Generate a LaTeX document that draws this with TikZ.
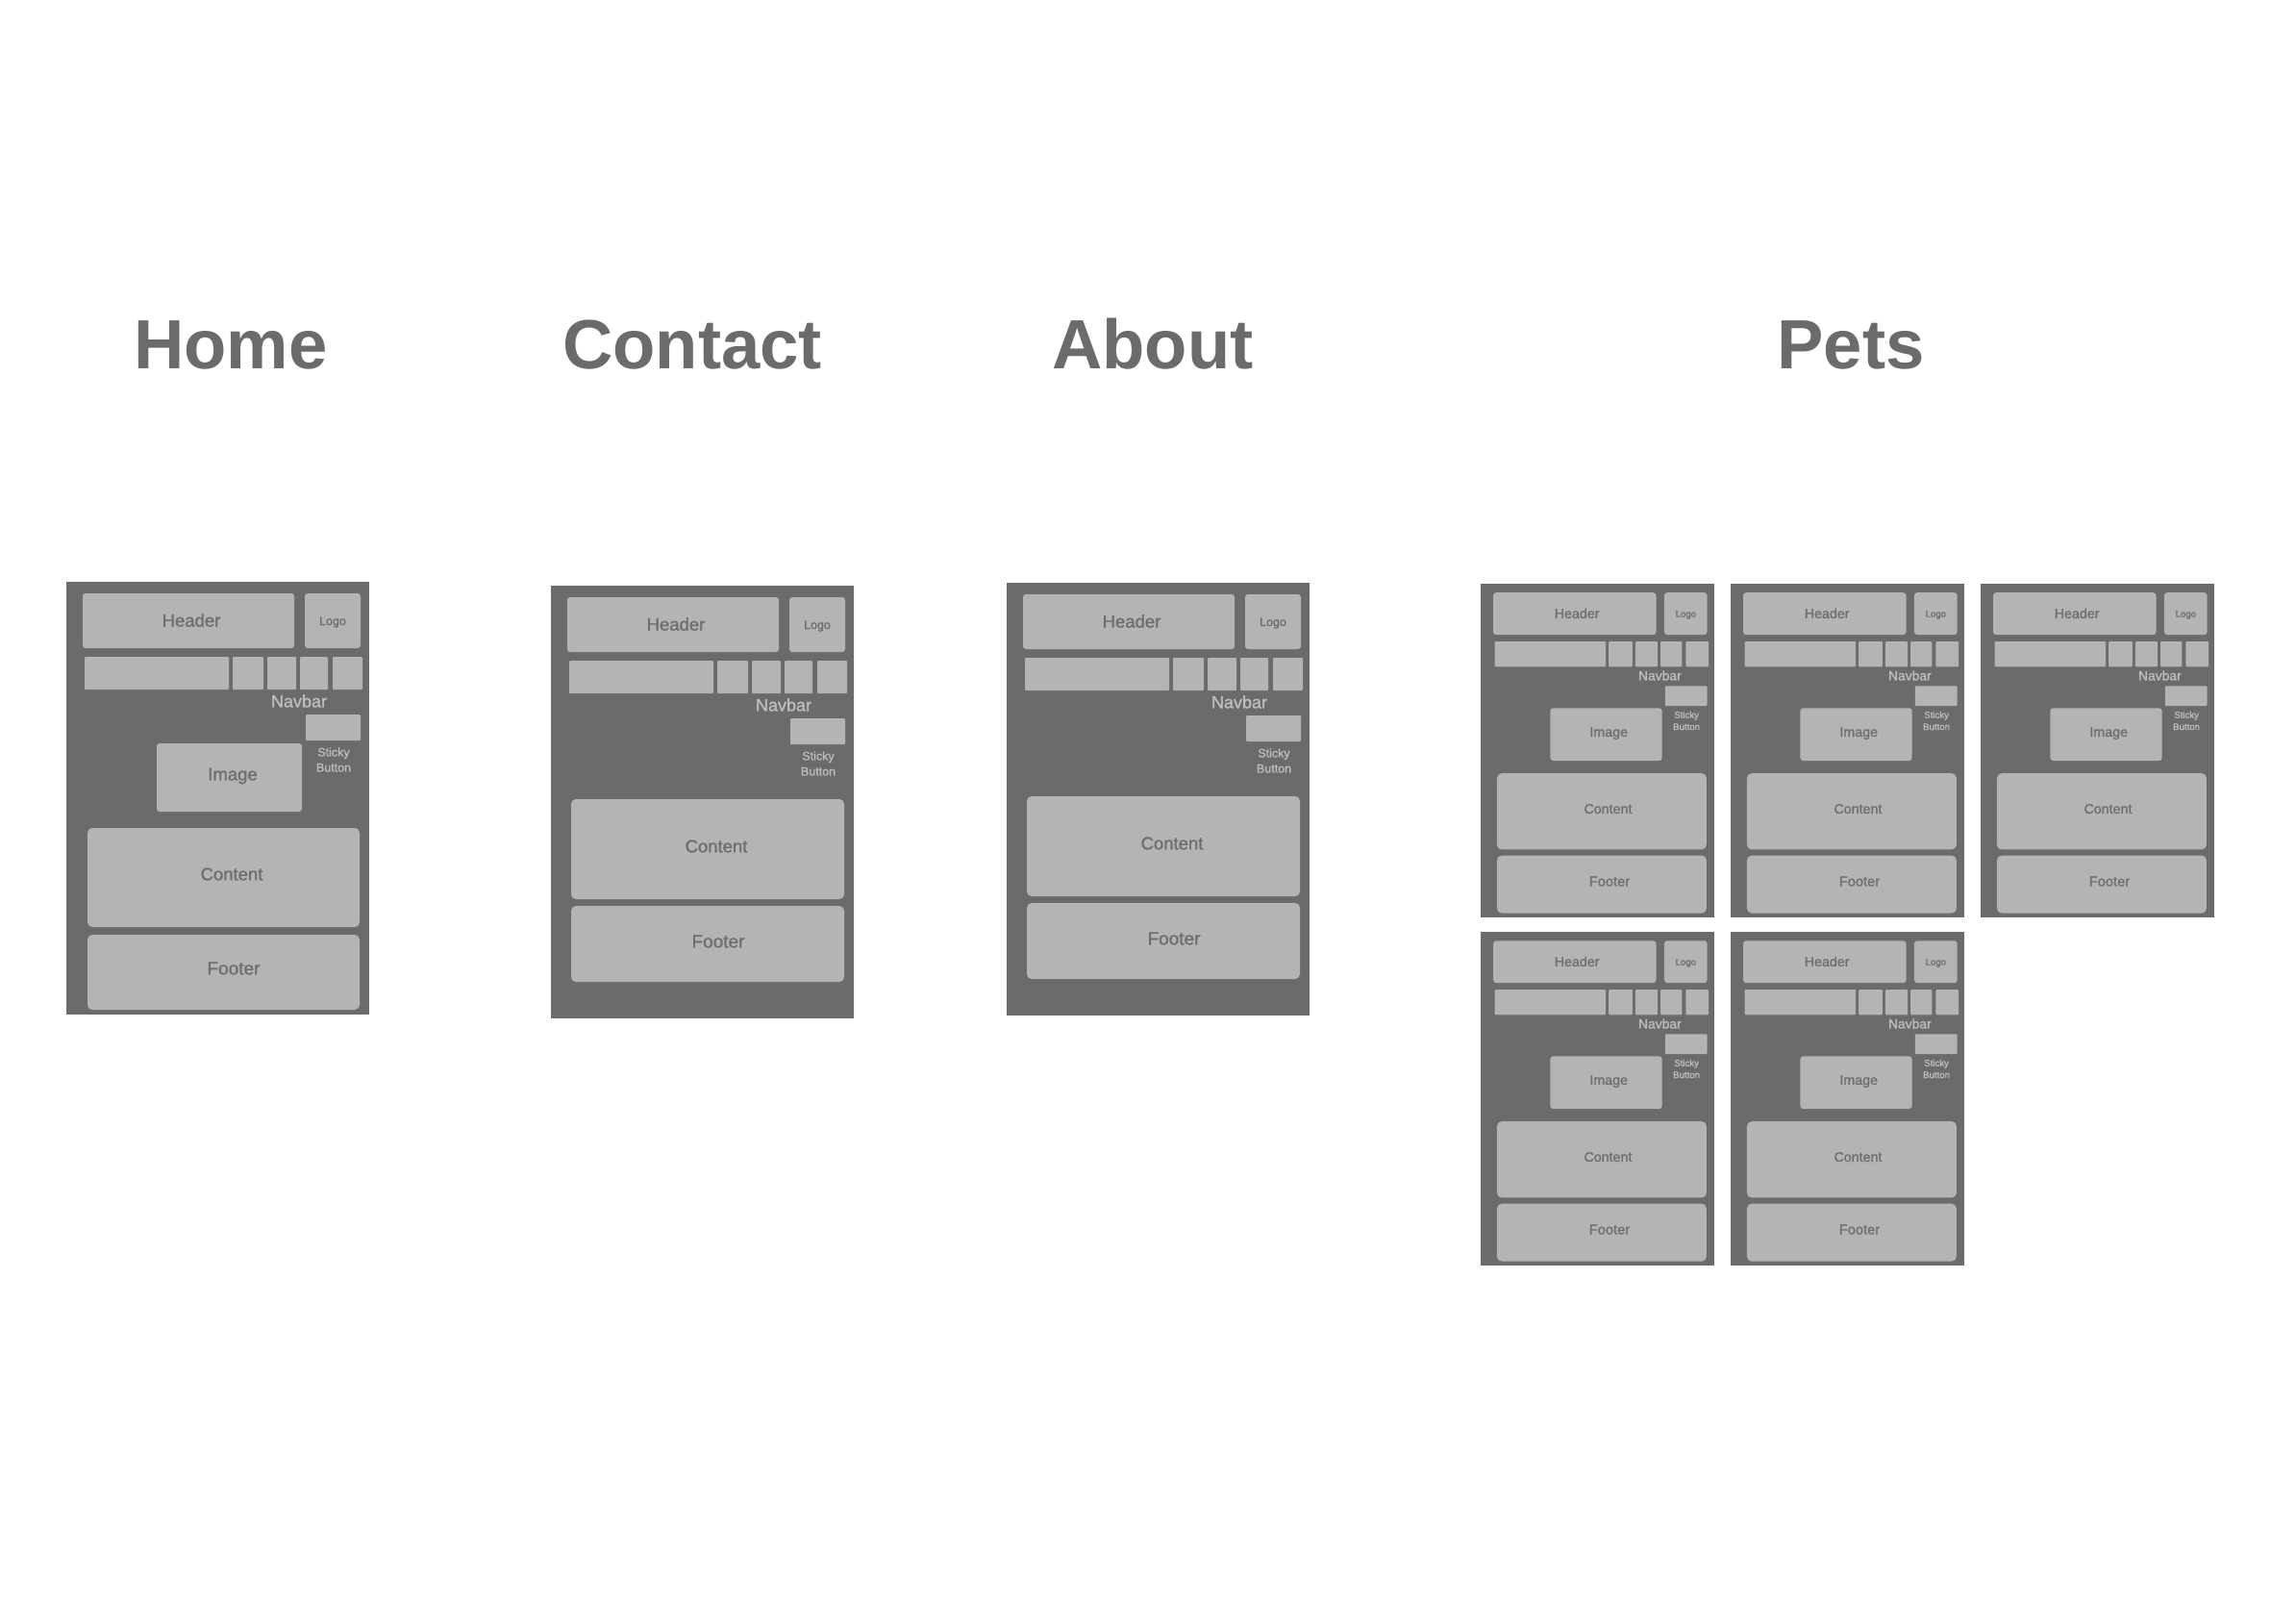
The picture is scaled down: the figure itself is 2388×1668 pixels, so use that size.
\documentclass[tikz,border=0pt]{standalone}
\usepackage{fontspec}
\setmainfont{Liberation Sans}
\newfontfamily\medfont{Liberation Sans}[FakeBold=1.2]

\definecolor{framegray}{HTML}{6B6B6B}
\definecolor{boxgray}{HTML}{B4B4B4}
\definecolor{inktext}{HTML}{6E6E6E}
\definecolor{lighttext}{HTML}{BDBDBD}
\definecolor{titlegray}{HTML}{6B6B6B}

\tikzset{
  pageframe/.style={fill=framegray, draw=none, anchor=north west, inner sep=0pt, outer sep=0pt},
  block/.style={fill=boxgray, draw=none, anchor=north west, inner sep=0pt, outer sep=0pt, rounded corners=3pt},
  bigblock/.style={block, rounded corners=5pt},
  navblock/.style={block, rounded corners=1pt},
  blocklabel/.style={text=inktext, inner sep=0pt},
  darklabel/.style={text=lighttext, inner sep=0pt, align=center},
  pagetitle/.style={text=titlegray, font=\bfseries\fontsize{72.5}{78}\selectfont, anchor=base, inner sep=0pt},
}

% One page wireframe: #1 name prefix, #2/#3 top-left corner, #4 scale, #5 = 1 with image block
\newcommand{\wirepage}[5]{%
\begin{scope}[shift={(#2,#3)}, scale=#4, transform shape]
  \node[pageframe, minimum width=315pt, minimum height=450pt] (#1-frame) at (0,0) {};
  \node[block, minimum width=220pt, minimum height=57pt] (#1-header) at (17,12) {};
  \node[blocklabel, font=\medfont\fontsize{18.5}{20}\selectfont] (#1-headertext) at (130,40) {Header};
  \node[block, minimum width=58pt, minimum height=57pt] (#1-logo) at (248,12) {};
  \node[blocklabel, font=\medfont\fontsize{12.5}{14}\selectfont] (#1-logotext) at (277,42) {Logo};
  \node[navblock, minimum width=150pt, minimum height=34pt] (#1-nav1) at (19,78) {};
  \node[navblock, minimum width=32pt, minimum height=34pt] (#1-nav2) at (173,78) {};
  \node[navblock, minimum width=30pt, minimum height=34pt] (#1-nav3) at (209,78) {};
  \node[navblock, minimum width=29pt, minimum height=34pt] (#1-nav4) at (243,78) {};
  \node[navblock, minimum width=31pt, minimum height=34pt] (#1-nav5) at (277,78) {};
  \node[darklabel, font=\medfont\fontsize{18}{20}\selectfont] (#1-navtext) at (242,124) {Navbar};
  \node[navblock, minimum width=57pt, minimum height=27pt] (#1-sticky) at (249,138) {};
  \node[darklabel, font=\medfont\fontsize{12.5}{16}\selectfont] (#1-stickytext) at (278,185) {Sticky\\Button};
  \ifnum#5=1
    \node[block, minimum width=151pt, minimum height=71pt] (#1-image) at (94,168) {};
    \node[blocklabel, font=\medfont\fontsize{18.5}{20}\selectfont] (#1-imagetext) at (173,202) {Image};
    \node[bigblock, minimum width=283pt, minimum height=103pt] (#1-content) at (22,256) {};
    \node[blocklabel, font=\medfont\fontsize{18.5}{20}\selectfont] (#1-contenttext) at (172,304) {Content};
    \node[bigblock, minimum width=283pt, minimum height=78pt] (#1-footer) at (22,367) {};
    \node[blocklabel, font=\medfont\fontsize{19}{21}\selectfont] (#1-footertext) at (174,402) {Footer};
  \else
    \node[bigblock, minimum width=284pt, minimum height=104pt] (#1-content) at (21,222) {};
    \node[blocklabel, font=\medfont\fontsize{18.5}{20}\selectfont] (#1-contenttext) at (172,271) {Content};
    \node[bigblock, minimum width=284pt, minimum height=79pt] (#1-footer) at (21,333) {};
    \node[blocklabel, font=\medfont\fontsize{19}{21}\selectfont] (#1-footertext) at (174,370) {Footer};
  \fi
\end{scope}}

\begin{document}
\begin{tikzpicture}[x=1pt, y=-1pt]
  \useasboundingbox[fill=white] (0,0) rectangle (2388,1668);

  % section titles
  \node[pagetitle] (t-home) at (240,383.5) {Home};
  \node[pagetitle] (t-contact) at (720,383.5) {Contact};
  \node[pagetitle] (t-about) at (1199,383.5) {About};
  \node[pagetitle] (t-pets) at (1925,383.5) {Pets};

  % full-size pages
  \wirepage{home}{69}{605}{1}{1}
  \wirepage{contact}{573}{609}{1}{0}
  \wirepage{about}{1047}{606}{1}{0}

  % pet detail pages
  \wirepage{pa}{1540}{607}{0.77}{1}
  \wirepage{pb}{1800}{607}{0.77}{1}
  \wirepage{pc}{2060}{607}{0.77}{1}
  \wirepage{pd}{1540}{969}{0.77}{1}
  \wirepage{pe}{1800}{969}{0.77}{1}
\end{tikzpicture}
\end{document}
